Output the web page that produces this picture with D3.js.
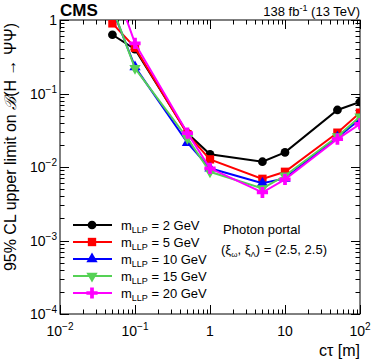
<!DOCTYPE html>
<html>
<head>
<meta charset="utf-8">
<script src="https://cdn.jsdelivr.net/npm/d3@7"></script>
<style>
  body { margin: 0; background: #fff; }
  text { font-family: "Liberation Sans", Arial, sans-serif; }
</style>
</head>
<body>
<svg id="chart"></svg>
<script>
// lifetimes (m)
var ctau = [0.05, 0.1, 0.5, 1, 5, 10, 50, 100];

// 95% CL limits, one array per LLP mass
var lim2  = [0.63, 0.40, 0.0287, 0.0149, 0.0118, 0.0158, 0.0597, 0.0766];
var lim5  = [0.90, 0.42, 0.0280, 0.0127, 0.0069, 0.0086, 0.0293, 0.0548];
var lim10 = [1.41, 0.23, 0.0214, 0.0096, 0.0060, 0.0070, 0.0253, 0.0446];
var lim15 = [1.47, 0.22, 0.0246, 0.0086, 0.0051, 0.0076, 0.0260, 0.0484];
var lim20 = [3.57, 0.48, 0.0290, 0.0096, 0.0045, 0.0068, 0.0240, 0.0385];

var masses = ["2", "5", "10", "15", "20"];
var xTicks = [0.01, 0.1, 1, 10, 100];
var xTickText = [["10", "\u22122"], ["10", "\u22121"], ["1", ""], ["10", ""], ["10", "2"]];
var yTicks = [1e-4, 1e-3, 1e-2, 1e-1, 1];
var yTickText = [["10", "\u22124"], ["10", "\u22123"], ["10", "\u22122"], ["10", "\u22121"], ["1", ""]];

var W = 374, H = 363;
var m = {left: 60, right: 14, top: 20, bottom: 49};

var series = [
  {vals: lim2,  color: "#000000", shape: "circle"},
  {vals: lim5,  color: "#ff0000", shape: "square"},
  {vals: lim10, color: "#0000ff", shape: "up"},
  {vals: lim15, color: "#55d155", shape: "down"},
  {vals: lim20, color: "#ff00ff", shape: "star"}
];

var svg = d3.select("#chart").attr("width", W).attr("height", H);

var x = d3.scaleLog().domain([0.01, 100]).range([m.left, W - m.right]);
var y = d3.scaleLog().domain([1e-4, 1]).range([H - m.bottom, m.top]);

svg.append("clipPath").attr("id", "clip").append("rect")
  .attr("x", m.left).attr("y", m.top)
  .attr("width", W - m.left - m.right).attr("height", H - m.top - m.bottom);

// frame
svg.append("rect")
  .attr("x", m.left).attr("y", m.top)
  .attr("width", W - m.left - m.right).attr("height", H - m.top - m.bottom)
  .attr("fill", "none").attr("stroke", "#000").attr("stroke-width", 1);

// ticks on all four sides, pointing inward
function minors(lo, hi) {
  var out = [];
  for (var e = Math.log10(lo); e < Math.log10(hi); e++)
    for (var k = 1; k < 10; k++) out.push({v: k * Math.pow(10, e), major: k == 1});
  out.push({v: hi, major: true});
  return out;
}
var tx = minors(0.01, 100), ty = minors(1e-4, 1);
var tg = svg.append("g").attr("stroke", "#000").attr("stroke-width", 1);
tx.forEach(function (t) {
  var L = t.major ? 9 : 4.5, xp = Math.round(x(t.v)) + 0.5;
  tg.append("line").attr("x1", xp).attr("x2", xp).attr("y1", y(1e-4)).attr("y2", y(1e-4) - L);
  tg.append("line").attr("x1", xp).attr("x2", xp).attr("y1", y(1)).attr("y2", y(1) + L);
});
ty.forEach(function (t) {
  var L = t.major ? 9 : 4.5, yp = Math.round(y(t.v)) + 0.5;
  tg.append("line").attr("x1", x(0.01)).attr("x2", x(0.01) + L).attr("y1", yp).attr("y2", yp);
  tg.append("line").attr("x1", x(100)).attr("x2", x(100) - L).attr("y1", yp).attr("y2", yp);
});

// tick labels
function expLabel(g, parts) {
  g.append("tspan").text(parts[0]);
  if (parts[1]) g.append("tspan").attr("dy", -6).attr("font-size", 10).text(parts[1]);
}
xTicks.forEach(function (v, i) {
  var t = svg.append("text").attr("x", x(v)).attr("y", y(1e-4) + 22)
    .attr("font-size", 14).attr("text-anchor", "middle");
  expLabel(t, xTickText[i]);
});
yTicks.forEach(function (v, i) {
  var t = svg.append("text").attr("x", m.left - 3).attr("y", y(v) + 5)
    .attr("font-size", 14).attr("text-anchor", "end");
  expLabel(t, yTickText[i]);
});

// axis titles
var xt = svg.append("text").attr("x", W - m.right).attr("y", H - 7)
  .attr("font-size", 16).attr("text-anchor", "end");
xt.append("tspan").text("c\u03c4 [m]");

var yt = svg.append("text").attr("transform", "translate(16," + (m.top + 3) + ") rotate(-90)")
  .attr("font-size", 16).attr("text-anchor", "end");
yt.append("tspan").text("95% CL upper limit on ");
yt.append("tspan").attr("font-style", "italic").text("\u212c");
yt.append("tspan").text("(H \u2192 \u03a8\u03a8)");

// header
svg.append("text").attr("x", m.left).attr("y", 16)
  .attr("font-size", 17).attr("font-weight", "bold").text("CMS");
var lumi = svg.append("text").attr("x", W - m.right).attr("y", 16)
  .attr("font-size", 13).attr("text-anchor", "end");
lumi.append("tspan").text("138 fb");
lumi.append("tspan").attr("dy", -5).attr("font-size", 9).text("-1");
lumi.append("tspan").attr("dy", 5).text(" (13 TeV)");

// markers
var sym = {
  circle: d3.symbol().type(d3.symbolCircle).size(60),
  square: d3.symbol().type(d3.symbolSquare).size(70),
  up: d3.symbol().type(d3.symbolTriangle).size(55),
  down: d3.symbol().type(d3.symbolTriangle).size(55),
  star: d3.symbol().type(d3.symbolCross).size(70)
};
function marker(g, shape, color, px, py) {
  g.append("path").attr("d", sym[shape]())
    .attr("transform", "translate(" + px + "," + py + ")" + (shape == "down" ? " rotate(180)" : ""))
    .attr("fill", color);
}

var line = d3.line().x(function (d) { return x(d[0]); }).y(function (d) { return y(d[1]); });
var plot = svg.append("g").attr("clip-path", "url(#clip)");
series.forEach(function (s) {
  var pts = ctau.map(function (c, i) { return [c, s.vals[i]]; });
  plot.append("path").attr("d", line(pts)).attr("fill", "none")
    .attr("stroke", s.color).attr("stroke-width", 2);
  pts.forEach(function (p) { marker(plot, s.shape, s.color, x(p[0]), y(p[1])); });
});

// legend
var lg = svg.append("g");
series.forEach(function (s, i) {
  var ly = 225 + i * 17;
  lg.append("line").attr("x1", 73).attr("x2", 112).attr("y1", ly).attr("y2", ly)
    .attr("stroke", s.color).attr("stroke-width", 2);
  marker(lg, s.shape, s.color, 92, ly);
  var t = lg.append("text").attr("x", 121).attr("y", ly + 5).attr("font-size", 13);
  t.append("tspan").text("m");
  t.append("tspan").attr("dy", 3).attr("font-size", 9).text("LLP");
  t.append("tspan").attr("dy", -3).text(" = " + masses[i] + " GeV");
});

// annotation
svg.append("text").attr("x", 223).attr("y", 234).attr("font-size", 13).text("Photon portal");
var an = svg.append("text").attr("x", 221).attr("y", 254).attr("font-size", 13);
an.append("tspan").text("(\u03be");
an.append("tspan").attr("dy", 3).attr("font-size", 8).text("\u03c9");
an.append("tspan").attr("dy", -3).text(", \u03be");
an.append("tspan").attr("dy", 3).attr("font-size", 8).text("\u039b");
an.append("tspan").attr("dy", -3).text(")  = (2.5, 2.5)");
</script>
</body>
</html>
